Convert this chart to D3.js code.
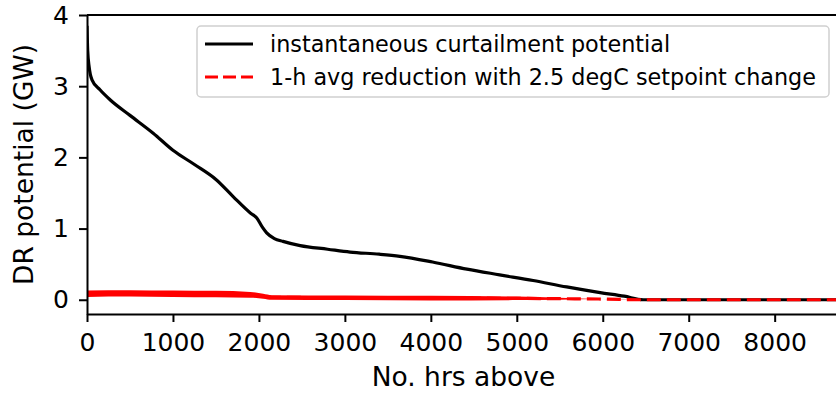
<!DOCTYPE html>
<html>
<head>
<meta charset="utf-8">
<script src="https://cdn.jsdelivr.net/npm/d3@7"></script>
<style>
  body { margin: 0; background: #fff; }
  svg { display: block; font-family: "DejaVu Sans", sans-serif; }
</style>
</head>
<body>
<svg id="chart"></svg>
<script>
// hours above / GW
var curtailHours = [0, 8, 25, 58, 151, 268, 500, 770, 1000, 1250, 1500, 1700, 1900, 1975, 2040, 2090, 2180, 2280, 2480, 2800, 3060, 3400, 3640, 4020, 4420, 4800, 5190, 5580, 5970, 6250, 6470, 8760];
var curtailValues = [3.85, 3.5, 3.27, 3.09, 2.95, 2.81, 2.59, 2.34, 2.1, 1.9, 1.69, 1.45, 1.22, 1.15, 1.02, 0.94, 0.86, 0.82, 0.76, 0.71, 0.67, 0.64, 0.61, 0.53, 0.43, 0.35, 0.27, 0.18, 0.1, 0.05, 0, 0];

var reductionHours = [0, 500, 1000, 1500, 1900, 2050, 2150, 3000, 4000, 5000, 5500, 6000, 6500, 8760];
var reductionValues = [0.085, 0.09, 0.085, 0.08, 0.07, 0.05, 0.035, 0.03, 0.025, 0.02, 0.015, 0.01, 0, 0];
// spread of the noisy hourly values around the line
var reductionUpper = [0.13, 0.135, 0.13, 0.125, 0.11, 0.085, 0.065, 0.06, 0.055, 0.045, 0.03, 0.01, 0, 0];
var reductionLower = [0.04, 0.045, 0.04, 0.035, 0.03, 0.015, 0.0, -0.005, -0.01, -0.005, 0.0, 0.01, 0, 0];

var xTicks = [0, 1000, 2000, 3000, 4000, 5000, 6000, 7000, 8000];
var yTicks = [0, 1, 2, 3, 4];
var seriesNames = ["instantaneous curtailment potential", "1-h avg reduction with 2.5 degC setpoint change"];

var svgWidth = 836, svgHeight = 394;
var margin = {top: 15, left: 87, bottom: 80};
var plotRight = 840; // axis runs a little past the picture edge

var svg = d3.select('#chart')
    .attr('width', svgWidth)
    .attr('height', svgHeight);

var x = d3.scaleLinear().domain([0, 8760]).range([margin.left, plotRight]);
var y = d3.scaleLinear().domain([-0.2, 4]).range([svgHeight - margin.bottom, margin.top]);

svg.append('clipPath').attr('id', 'plotClip')
  .append('rect')
    .attr('x', margin.left).attr('y', margin.top)
    .attr('width', plotRight - margin.left)
    .attr('height', y(-0.2) - margin.top);

var plot = svg.append('g').attr('clip-path', 'url(#plotClip)');

var curtail = curtailHours.map(function(h, i) { return [h, curtailValues[i]]; });
var reduction = reductionHours.map(function(h, i) {
    return {h: h, v: reductionValues[i], hi: reductionUpper[i], lo: reductionLower[i]};
});

var line = d3.line()
    .x(function(d) { return x(d[0]); })
    .y(function(d) { return y(d[1]); })
    .curve(d3.curveMonotoneX);

plot.append('path')
    .datum(curtail)
    .attr('d', line)
    .attr('fill', 'none')
    .attr('stroke', '#000')
    .attr('stroke-width', 3.2);

// noisy band of the red series
plot.append('path')
    .datum(reduction)
    .attr('d', d3.area()
        .x(function(d) { return x(d.h); })
        .y0(function(d) { return y(d.lo); })
        .y1(function(d) { return y(d.hi); })
        .curve(d3.curveMonotoneX))
    .attr('fill', 'red');

plot.append('path')
    .datum(reduction)
    .attr('d', d3.line()
        .x(function(d) { return x(d.h); })
        .y(function(d) { return y(d.v); })
        .curve(d3.curveMonotoneX))
    .attr('fill', 'none')
    .attr('stroke', 'red')
    .attr('stroke-width', 3.2)
    .attr('stroke-dasharray', '14,6');

// axes
var xAxis = svg.append('g')
    .attr('transform', 'translate(0,' + y(-0.2) + ')')
    .call(d3.axisBottom(x).tickValues(xTicks).tickFormat(d3.format('d'))
        .tickSize(8).tickPadding(11).tickSizeOuter(0));

var yAxis = svg.append('g')
    .attr('transform', 'translate(' + margin.left + ',0)')
    .call(d3.axisLeft(y).tickValues(yTicks).tickFormat(d3.format('d'))
        .tickSize(8).tickPadding(10).tickSizeOuter(0));

[xAxis, yAxis].forEach(function(a) {
    a.select('.domain').attr('stroke', '#000').attr('stroke-width', 2);
    a.selectAll('.tick line').attr('stroke', '#000').attr('stroke-width', 2);
    a.selectAll('.tick text')
        .attr('fill', '#000')
        .style('font-family', '"DejaVu Sans", sans-serif')
        .style('font-size', '25px');
});

// top spine
svg.append('line')
    .attr('x1', margin.left).attr('x2', plotRight)
    .attr('y1', margin.top).attr('y2', margin.top)
    .attr('stroke', '#000').attr('stroke-width', 2);

svg.append('text')
    .attr('x', (margin.left + plotRight) / 2)
    .attr('y', 386)
    .attr('text-anchor', 'middle')
    .style('font-size', '26.5px')
    .text('No. hrs above');

svg.append('text')
    .attr('transform', 'translate(33,' + (margin.top + y(-0.2)) / 2 + ') rotate(-90)')
    .attr('text-anchor', 'middle')
    .style('font-size', '26.5px')
    .text('DR potential (GW)');

// legend
var legend = svg.append('g').attr('transform', 'translate(197,26)');
legend.append('rect')
    .attr('width', 632).attr('height', 71)
    .attr('rx', 4)
    .attr('fill', 'rgba(255,255,255,0.8)')
    .attr('stroke', '#d0d0d0')
    .attr('stroke-width', 1.5);

var rows = legend.selectAll('.row')
    .data(seriesNames)
    .enter().append('g')
    .attr('class', 'row')
    .attr('transform', function(d, i) { return 'translate(0,' + (18 + i * 33) + ')'; });

rows.append('line')
    .attr('x1', 8).attr('x2', 56)
    .attr('stroke', function(d, i) { return i === 0 ? '#000' : 'red'; })
    .attr('stroke-width', 3.2)
    .attr('stroke-dasharray', function(d, i) { return i === 0 ? null : '13,5'; });

rows.append('text')
    .attr('x', 73)
    .attr('dy', '0.36em')
    .style('font-size', '22.3px')
    .text(function(d) { return d; });
</script>
</body>
</html>
